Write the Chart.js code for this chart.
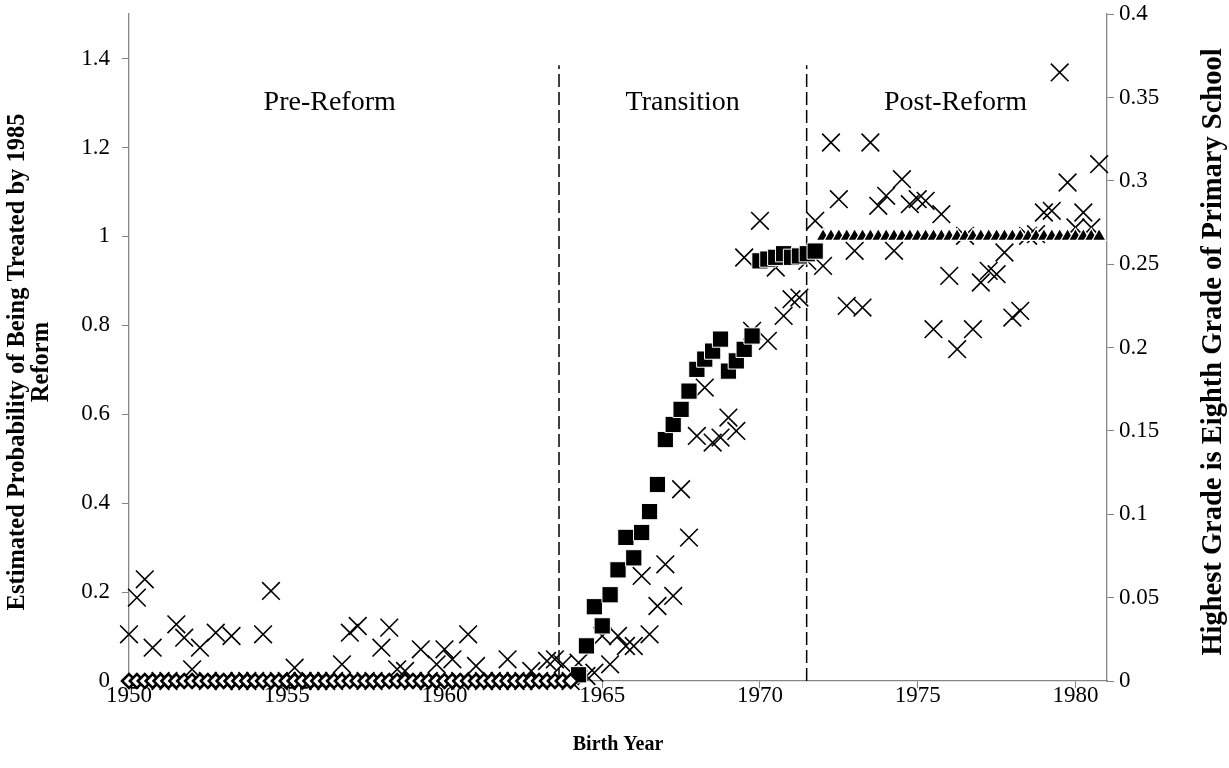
<!DOCTYPE html>
<html>
<head>
<meta charset="utf-8">
<script src="https://cdn.jsdelivr.net/npm/chart.js@4.4.1/dist/chart.umd.min.js"></script>
<style>
  html, body { margin: 0; padding: 0; background: #fff; }
  #wrap { width: 1229px; height: 768px; }
</style>
</head>
<body>
<div id="wrap"><canvas id="chart" width="1229" height="768"></canvas></div>
<script>
// birth quarters, 1950Q1 .. 1980Q4 (year + (q-1)/4)
const birthQuarters = [];
for (let y = 1950; y <= 1980; y++) {
  for (let q = 0; q < 4; q++) birthQuarters.push(y + q / 4);
}

// probability of being treated, pre-reform cohorts (1950.00 - 1964.00)
const preReform = [
  0, 0, 0, 0,  0, 0, 0, 0,  0, 0, 0, 0,  0, 0, 0, 0,
  0, 0, 0, 0,  0, 0, 0, 0,  0, 0, 0, 0,  0, 0, 0, 0,
  0, 0, 0, 0,  0, 0, 0, 0,  0, 0, 0, 0,  0, 0, 0, 0,
  0, 0, 0, 0,  0, 0, 0, 0,  0
];

// probability of being treated, transition cohorts (1964.25 - 1971.75)
const transition = [
  0.014, 0.079, 0.167,
  0.124, 0.194, 0.250, 0.323,
  0.277, 0.334, 0.381, 0.442,
  0.543, 0.577, 0.611, 0.652,
  0.701, 0.724, 0.742, 0.769,
  0.697, 0.720, 0.746, 0.776,
  0.945, 0.949, 0.953, 0.961,
  0.953, 0.956, 0.961, 0.967
];

// probability of being treated, post-reform cohorts (1972.00 - 1980.75)
const postReform = [
  1, 1, 1, 1,  1, 1, 1, 1,  1, 1, 1, 1,
  1, 1, 1, 1,  1, 1, 1, 1,  1, 1, 1, 1,
  1, 1, 1, 1,  1, 1, 1, 1,  1, 1, 1, 1
];

// share whose highest grade is 8th grade of primary school (right axis)
const eighthGrade = [
  0.028, 0.050, 0.061, 0.020,   // 1950
  0,     0,     0.034, 0.026,   // 1951
  0.007, 0.020, 0,     0.029,   // 1952
  0,     0.027, 0,     0,       // 1953
  0,     0.028, 0.054, 0,       // 1954
  0,     0.008, 0,     0,       // 1955
  0,     0,     0,     0.010,   // 1956
  0.029, 0.033, 0,     0,       // 1957
  0.020, 0.032, 0.007, 0.006,   // 1958
  0,     0.019, 0,     0.010,   // 1959
  0.019, 0.013, 0,     0.028,   // 1960
  0.009, 0,     0,     0,       // 1961
  0.013, 0,     0,     0.006,   // 1962
  0,     0.012, 0.013, 0.010,   // 1963
  0,     0.011, 0.003, 0.005,   // 1964
  0.027, 0.010, 0.027, 0.021,   // 1965
  0.021, 0.063, 0.028, 0.045,   // 1966
  0.070, 0.051, 0.115, 0.086,   // 1967
  0.147, 0.176, 0.143, 0.146,   // 1968
  0.158, 0.150, 0.254, 0.210,   // 1969
  0.276, 0.204, 0.248, 0.219,   // 1970
  0.229, 0.230, 0.252, 0.276,   // 1971
  0.249, 0.323, 0.289, 0.225,   // 1972
  0.258, 0.224, 0.323, 0.285,   // 1973
  0.291, 0.258, 0.301, 0.286,   // 1974
  0.289, 0.288, 0.211, 0.280,   // 1975
  0.243, 0.199, 0.267, 0.211,   // 1976
  0.239, 0.246, 0.244, 0.257,   // 1977
  0.218, 0.222, 0.267, 0.268,   // 1978
  0.281, 0.282, 0.365, 0.299,   // 1979
  0.272, 0.281, 0.272, 0.310    // 1980
];

// period boundaries and labels
const reformStart = 1963.63;
const reformEnd = 1971.48;
const dividerTop = 1.385;
const periodNames = ['Pre-Reform', 'Transition', 'Post-Reform'];
const periodCenters = [1956.36, 1967.55, 1976.2];
const periodLabelY = 1.30;

const leftTicks = [0, 0.2, 0.4, 0.6, 0.8, 1, 1.2, 1.4];
const leftTitle = ['Estimated Probability of Being Treated by 1985', 'Reform'];
const rightTitle = 'Highest Grade is Eighth Grade of Primary School';

const SERIF = '"Liberation Serif", "Times New Roman", serif';
const AXIS_GREY = '#868686';

const pairs = (xs, ys, offset) => ys.map((v, i) => ({ x: xs[i + offset], y: v }));

const preData = pairs(birthQuarters, preReform, 0);
const transData = pairs(birthQuarters, transition, preReform.length);
const postData = pairs(birthQuarters, postReform, preReform.length + transition.length);
const gradeData = pairs(birthQuarters, eighthGrade, 0);

// draws the period names and both vertical axis titles (bottom-to-top)
const textPlugin = {
  id: 'periodText',
  afterDraw(chart) {
    const { ctx, scales } = chart;
    ctx.save();
    ctx.fillStyle = '#000';
    ctx.font = '28px ' + SERIF;
    ctx.textAlign = 'center';
    ctx.textBaseline = 'middle';
    periodNames.forEach((name, i) => {
      ctx.fillText(name, scales.x.getPixelForValue(periodCenters[i]), scales.y.getPixelForValue(periodLabelY));
    });

    ctx.save();
    ctx.font = 'bold 24.5px ' + SERIF;
    ctx.translate(18, 362);
    ctx.rotate(-Math.PI / 2);
    ctx.fillText(leftTitle[0], 0, 0);
    ctx.fillText(leftTitle[1], 0, 24);
    ctx.restore();

    ctx.font = 'bold 28.5px ' + SERIF;
    ctx.translate(1214, 352);
    ctx.rotate(-Math.PI / 2);
    ctx.fillText(rightTitle, 0, 0);
    ctx.restore();
  }
};

const fmt = v => String(Number(v.toFixed(2)));
const tickFont = { family: SERIF, size: 23 };
// keep the plot area fixed: no extra room for overhanging tick labels
const noOverhang = s => { s.paddingTop = 0; s.paddingBottom = 0; s.paddingLeft = 0; s.paddingRight = 0; };

new Chart(document.getElementById('chart'), {
  type: 'scatter',
  data: {
    datasets: [
      {
        label: 'Pre-Reform',
        data: preData,
        yAxisID: 'y',
        clip: false,
        pointStyle: 'rectRot',
        pointRadius: 7,
        backgroundColor: '#fff',
        borderColor: '#000',
        borderWidth: 2.5
      },
      {
        label: 'Transition',
        data: transData,
        yAxisID: 'y',
        clip: false,
        pointStyle: 'rect',
        pointRadius: 11.5,
        backgroundColor: '#000',
        borderColor: '#fff',
        borderWidth: 1
      },
      {
        label: 'Post-Reform',
        data: postData,
        yAxisID: 'y',
        clip: false,
        pointStyle: 'triangle',
        pointRadius: 8,
        backgroundColor: '#000',
        borderColor: '#fff',
        borderWidth: 1.2
      },
      {
        label: 'Eighth grade',
        data: gradeData,
        yAxisID: 'y1',
        clip: false,
        pointStyle: 'crossRot',
        pointRadius: 12.5,
        backgroundColor: '#000',
        borderColor: '#000',
        borderWidth: 1.6
      },
      {
        label: 'start',
        data: [{ x: reformStart, y: 0 }, { x: reformStart, y: dividerTop }],
        yAxisID: 'y',
        showLine: true,
        pointRadius: 0,
        borderColor: '#000',
        borderWidth: 1.5,
        borderDash: [13, 5]
      },
      {
        label: 'end',
        data: [{ x: reformEnd, y: 0 }, { x: reformEnd, y: dividerTop }],
        yAxisID: 'y',
        showLine: true,
        pointRadius: 0,
        borderColor: '#000',
        borderWidth: 1.5,
        borderDash: [13, 5]
      }
    ]
  },
  options: {
    responsive: false,
    animation: false,
    devicePixelRatio: 1,
    layout: { padding: { top: 14, left: 0, right: 0, bottom: 0 } },
    plugins: {
      legend: { display: false },
      tooltip: { enabled: false }
    },
    scales: {
      x: {
        type: 'linear',
        position: 'bottom',
        min: 1950,
        max: 1981,
        afterFit: s => { s.height = 87; noOverhang(s); },
        ticks: {
          stepSize: 5,
          includeBounds: false,
          callback: v => String(v),
          color: '#000',
          font: tickFont,
          padding: -6
        },
        grid: { drawOnChartArea: false, drawTicks: true, tickLength: 7, color: AXIS_GREY },
        border: { color: AXIS_GREY, width: 1.3 },
        title: {
          display: true,
          text: 'Birth Year',
          color: '#000',
          font: { family: SERIF, size: 20, weight: 'bold' },
          padding: { top: 0, bottom: 11 }
        }
      },
      y: {
        type: 'linear',
        position: 'left',
        min: 0,
        max: 1.5,
        afterFit: s => { s.width = 129; noOverhang(s); },
        afterBuildTicks: s => { s.ticks = leftTicks.map(v => ({ value: v })); },
        ticks: {
          callback: fmt,
          color: '#000',
          font: tickFont,
          padding: 12
        },
        grid: { drawOnChartArea: false, drawTicks: true, tickLength: 7, color: AXIS_GREY },
        border: { color: AXIS_GREY, width: 1.3 }
      },
      y1: {
        type: 'linear',
        position: 'right',
        min: 0,
        max: 0.4,
        afterFit: s => { s.width = 122; noOverhang(s); },
        ticks: {
          stepSize: 0.05,
          callback: fmt,
          color: '#000',
          font: tickFont,
          padding: 5
        },
        grid: { drawOnChartArea: false, drawTicks: true, tickLength: 7, color: AXIS_GREY },
        border: { color: AXIS_GREY, width: 1.3 }
      }
    }
  },
  plugins: [textPlugin]
});
</script>
</body>
</html>
